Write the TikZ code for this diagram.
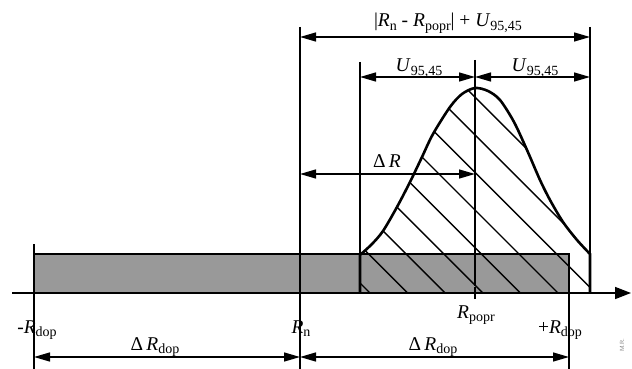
\documentclass[tikz,border=0pt]{standalone}
\usepackage{fontspec}
\setmainfont{Liberation Serif}
\usetikzlibrary{arrows.meta}
\definecolor{Band}{HTML}{999999}
\newcommand{\lo}[1]{\raisebox{-0.17em}{\fontsize{14}{14}\selectfont #1}}

\begin{document}
\begin{tikzpicture}[x=1pt,y=-1pt,
    t/.style={font=\fontsize{19.5}{22}\selectfont,inner sep=0pt,anchor=base},
    l/.style={line width=1.4pt},
    tk/.style={line width=2.6pt},
    d/.style={{Triangle[length=16pt,width=9pt]}-{Triangle[length=16pt,width=9pt]},l}
  ]
    \useasboundingbox (0,0) rectangle (632,369);
    % positions on the axis
    \coordinate (xLo) at (34,293);
    \coordinate (xN) at (300,293);
    \coordinate (xA) at (360,293);
    \coordinate (xP) at (475,293);
    \coordinate (xHi) at (569,293);
    \coordinate (xB) at (590,293);
    % levels of the dimension lines
    \coordinate (yTop) at (0,37);
    \coordinate (yU) at (0,77);
    \coordinate (yDR) at (0,174);
    \coordinate (yDop) at (0,357);

    % tolerance band
    \draw[l,fill=Band] (34,254) rectangle (xHi);

    % hatched distribution
    \begin{scope}
      \clip (xA) -- plot[smooth] coordinates {(360,255) (372,244) (383,231) (397,207) (410,182) (422,157) (433,134) (450,107) (462,94) (475,88) (488,91) (500,100) (514,122) (527,150) (540,180) (550,200) (563,222) (577,240) (590,254)} -- (xB) -- cycle;
      \foreach \k in {0,...,8}
        \draw[l] ({370+37.6*\k},293) -- ++(-260,-260);
    \end{scope}
    \draw[tk] (xA) -- plot[smooth] coordinates {(360,255) (372,244) (383,231) (397,207) (410,182) (422,157) (433,134) (450,107) (462,94) (475,88) (488,91) (500,100) (514,122) (527,150) (540,180) (550,200) (563,222) (577,240) (590,254)} -- (xB);

    % axis
    \coordinate (ax0) at (12,293);
    \coordinate (ax1) at (631,293);
    \draw[l,line width=1.6pt,-{Triangle[length=16pt,width=12pt]}] (ax0) -- (ax1);

    % extension lines
    \draw[l] (xN |- yTop) ++(0,-10) -- ([yshift=19pt]xN);
    \draw[l] (xB |- yTop) ++(0,-10) -- (xB);
    \draw[l] (xA |- yU) ++(0,-15) -- (xA);
    \draw[l] (xP |- yU) ++(0,-17) -- ([yshift=7pt]xP);
    \draw[l] ([yshift=49pt]xLo) -- (xLo |- 0,369);
    \draw[l] ([yshift=42pt]xN) -- (xN |- 0,369);
    \draw[l] ([yshift=40pt]xHi) -- (xHi |- 0,369);
    \foreach \p/\a/\b in {xLo/-6/9,xN/-8/9,xP/-6/6,xHi/-11/9}
      \draw[tk] ([yshift=\a pt]\p) -- ([yshift=\b pt]\p);

    % dimension lines
    \draw[d] (xN |- yTop) -- (xB |- yTop);
    \draw[d] (xA |- yU) -- (xP |- yU);
    \draw[d] (xP |- yU) -- (xB |- yU);
    \draw[d] (xN |- yDR) -- (xP |- yDR);
    \draw[d] (xLo |- yDop) -- (xN |- yDop);
    \draw[d] (xN |- yDop) -- (xHi |- yDop);

    % labels
    \node[t] (sum) at (448,27) {|\textit{R}\lo{n} - \textit{R}\lo{popr}| + \textit{U}\lo{95,45}};
    \node[t] (ul) at (419,72) {\textit{U}\lo{95,45}};
    \node[t] (ur) at (535,72) {\textit{U}\lo{95,45}};
    \node[t] (dr) at (387,167) {Δ\,\textit{R}};
    \node[t] (rlo) at (37,333) {-\textit{R}\lo{dop}};
    \node[t] (rn) at (301,333) {\textit{R}\lo{n}};
    \node[t] (rp) at (476,318) {\textit{R}\lo{popr}};
    \node[t] (rhi) at (560,333) {+\textit{R}\lo{dop}};
    \node[t] (dl) at (155,350) {Δ\,\textit{R}\lo{dop}};
    \node[t] (dh) at (433,350) {Δ\,\textit{R}\lo{dop}};
    \node[rotate=90,font=\fontsize{6}{6}\sffamily,text=gray,inner sep=0pt] (mark) at (622,345) {M.R.};
  \end{tikzpicture}
\end{document}
